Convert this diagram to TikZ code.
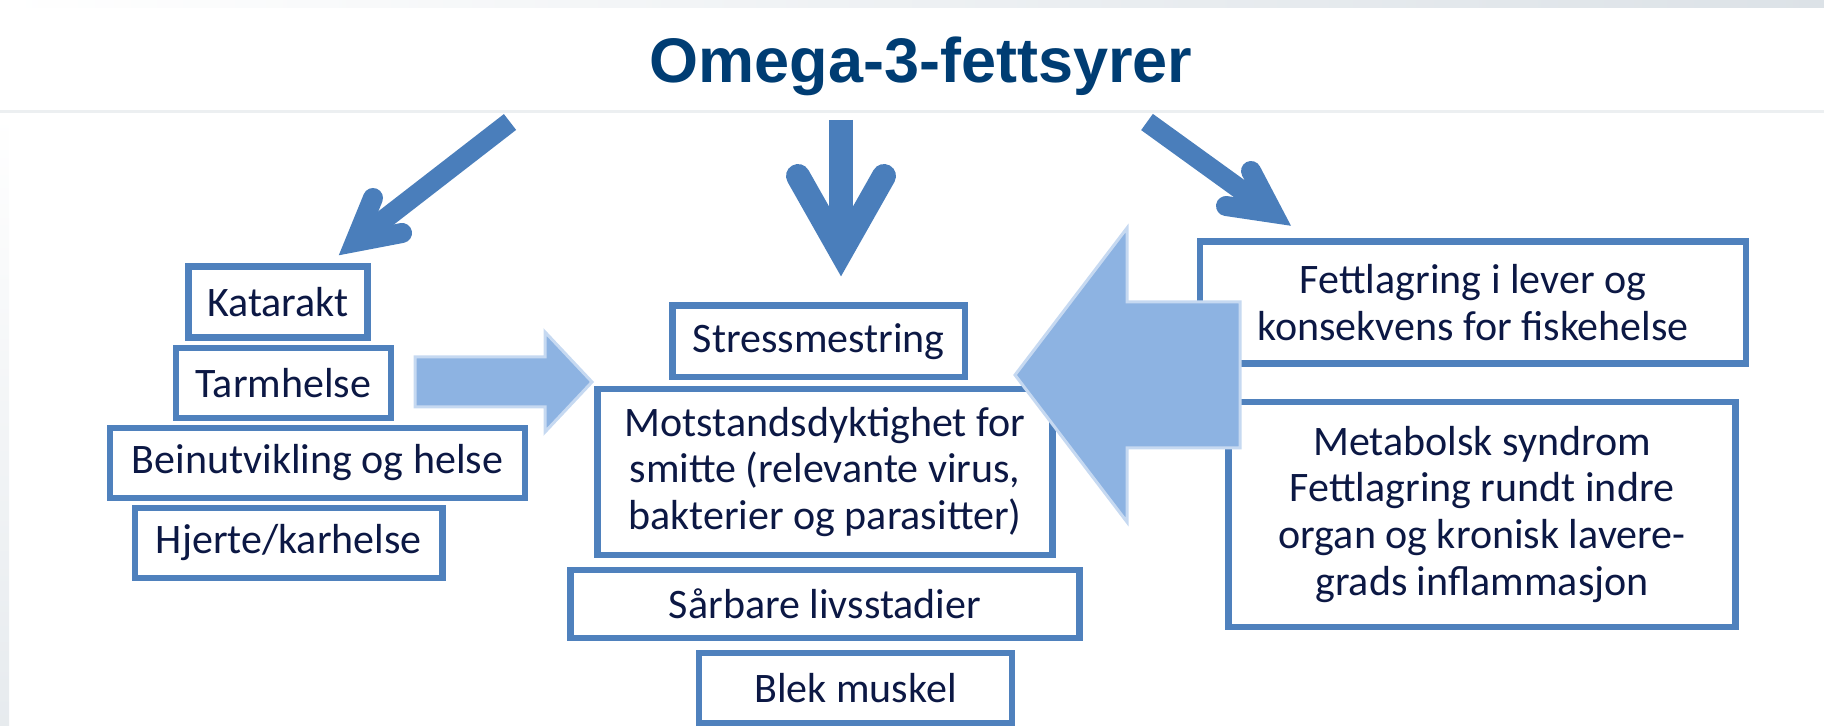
\documentclass[tikz,border=0pt]{standalone}
\usepackage{fontspec}
\setmainfont{Carlito}
\newfontfamily\titlefont{Liberation Sans}
\definecolor{titleblue}{HTML}{003D73}
\definecolor{boxblue}{HTML}{4F81BD}
\definecolor{arrowblue}{HTML}{4A7EBB}
\definecolor{lightblue}{HTML}{8DB3E2}
\definecolor{lightedge}{HTML}{C6D9F1}
\definecolor{textnavy}{HTML}{0C1844}
\definecolor{bandgray}{HTML}{DCE2E7}
\definecolor{rulegray}{HTML}{ECEFF1}
\begin{document}
\begin{tikzpicture}[x=0.5pt,y=-0.5pt,
  box/.style={draw=boxblue, line width=3.2pt, fill=white, inner sep=0pt, align=center,
    text=textnavy, font=\fontsize{21}{23.3}\selectfont},
  shaft/.style={draw=arrowblue, line width=10pt, line cap=butt},
  barb/.style={draw=arrowblue, line width=10pt, line cap=round, line join=miter, miter limit=10},
  bigarrow/.style={fill=lightblue, draw=lightedge, line width=1.5pt, line join=miter}]
\useasboundingbox (0,0) rectangle (1824,726);
% background details
\shade[left color=white, right color=bandgray] (0,0) rectangle (1824,8);
\shade[top color=white, bottom color=bandgray!70] (0,112) rectangle (9,726);
\fill[rulegray] (0,110) rectangle (1824,113.5);
% title
\node[anchor=base, text=titleblue, font=\titlefont\bfseries\fontsize{31.5}{36}\selectfont, inner sep=0pt] (title) at (921,83) {Omega-3-fettsyrer};
% left boxes
\node[box, minimum width=89.5pt, minimum height=35.5pt] (kat) at (278,302) {Katarakt};
\node[box, minimum width=107.5pt, minimum height=35pt] (tarm) at (283.5,383) {Tarmhelse};
\node[box, minimum width=207.5pt, minimum height=35pt] (bein) at (317.5,463) {Beinutvikling og helse};
\node[box, minimum width=153.75pt, minimum height=35pt] (hjerte) at (288.75,543) {Hjerte/karhelse};
% centre boxes
\node[box, minimum width=146.25pt, minimum height=35.75pt] (stress) at (818.75,341.25) {Stressmestring};
\node[box, minimum width=227.5pt, minimum height=83.2pt] (motst) at (825,472) {Motstandsdyktighet for\\smitte (relevante virus,\\bakterier og parasitter)};
\node[box, minimum width=254.5pt, minimum height=34pt] (sarb) at (825,604) {Sårbare livsstadier};
\node[box, minimum width=156.5pt, minimum height=35.15pt] (blek) at (855.5,688) {Blek muskel};
% right boxes
\node[box, minimum width=273pt, minimum height=61pt] (fett) at (1473,302.5) {Fettlagring i lever og\\konsekvens for fiskehelse};
\node[box, minimum width=253.5pt, minimum height=112.5pt] (meta) at (1482,514.3) {Metabolsk syndrom\\Fettlagring rundt indre\\organ og kronisk lavere-\\grads inflammasjon};
% big light arrows
\draw[bigarrow] (1015,375) -- (1127,228) -- (1127,302) -- (1240,302) -- (1240,448) -- (1127,448) -- (1127,522) -- cycle;
\draw[bigarrow] (415,357) -- (545,357) -- (545,332) -- (592,382) -- (545,432) -- (545,407) -- (415,407) -- cycle;
% dark arrows: left
\coordinate (l0) at (510,122);
\coordinate (lv) at (355,242);
\coordinate (la) at (402,233);
\coordinate (lb) at (373,198);
\draw[shaft] (l0) -- (lv);
\draw[barb] (la) -- (lv) -- (lb);
% middle
\coordinate (m0) at (841,120);
\coordinate (mv) at (841,252);
\coordinate (ma) at (798,176);
\coordinate (mb) at (884,176);
\draw[shaft, line width=12pt] (m0) -- (mv);
\draw[barb, line width=12pt] (ma) -- (mv) -- (mb);
% right
\coordinate (r0) at (1147,122);
\coordinate (rv) at (1273,213);
\coordinate (ra) at (1251,171);
\coordinate (rb) at (1226,206);
\draw[shaft] (r0) -- (rv);
\draw[barb] (ra) -- (rv) -- (rb);
\end{tikzpicture}
\end{document}
